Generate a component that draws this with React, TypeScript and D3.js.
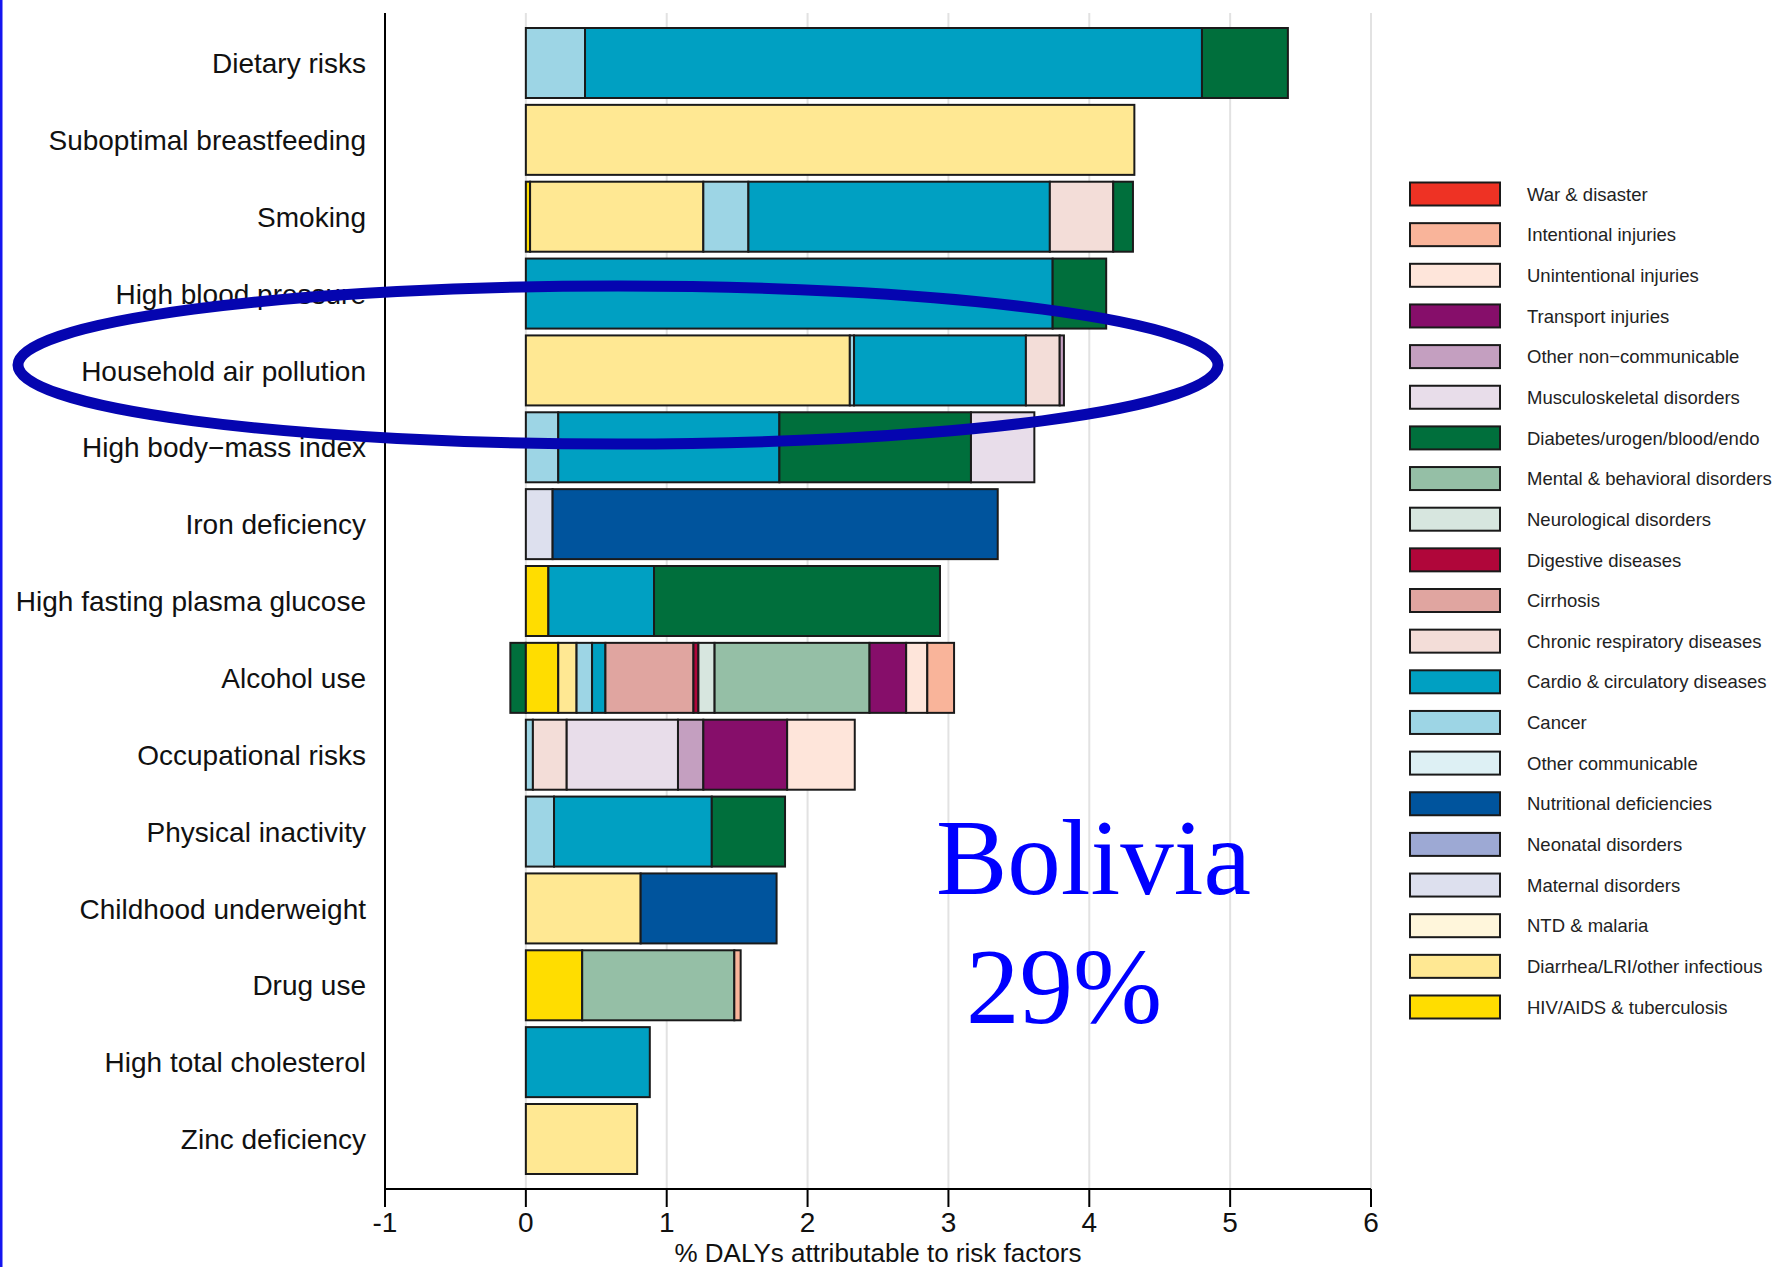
import React from "react";
import * as d3 from "d3";

// Legend / cause categories (top to bottom as in legend)
const causes = [
  "War & disaster",
  "Intentional injuries",
  "Unintentional injuries",
  "Transport injuries",
  "Other non\u2212communicable",
  "Musculoskeletal disorders",
  "Diabetes/urogen/blood/endo",
  "Mental & behavioral disorders",
  "Neurological disorders",
  "Digestive diseases",
  "Cirrhosis",
  "Chronic respiratory diseases",
  "Cardio & circulatory diseases",
  "Cancer",
  "Other communicable",
  "Nutritional deficiencies",
  "Neonatal disorders",
  "Maternal disorders",
  "NTD & malaria",
  "Diarrhea/LRI/other infectious",
  "HIV/AIDS & tuberculosis",
];

const causeColors = [
  "#EE3224",
  "#F9B49A",
  "#FEE5DA",
  "#860E6A",
  "#C49FC0",
  "#E8DDEA",
  "#006F3C",
  "#95BFA6",
  "#D7E6DF",
  "#B0063A",
  "#E0A5A0",
  "#F3DDD8",
  "#00A0C2",
  "#9DD5E5",
  "#DDF0F4",
  "#00549D",
  "#9DA9D4",
  "#DDE0EE",
  "#FFF6DB",
  "#FFE893",
  "#FFDD00",
];

const riskFactors = [
  "Dietary risks",
  "Suboptimal breastfeeding",
  "Smoking",
  "High blood pressure",
  "Household air pollution",
  "High body\u2212mass index",
  "Iron deficiency",
  "High fasting plasma glucose",
  "Alcohol use",
  "Occupational risks",
  "Physical inactivity",
  "Childhood underweight",
  "Drug use",
  "High total cholesterol",
  "Zinc deficiency",
];

// Segment sizes (% DALYs) per risk factor, in stacking order
const dietaryRisks: [string, number][] = [
  ["Cancer", 0.42],
  ["Cardio & circulatory diseases", 4.38],
  ["Diabetes/urogen/blood/endo", 0.61],
];
const suboptimalBreastfeeding: [string, number][] = [
  ["Diarrhea/LRI/other infectious", 4.32],
];
const smoking: [string, number][] = [
  ["HIV/AIDS & tuberculosis", 0.03],
  ["Diarrhea/LRI/other infectious", 1.23],
  ["Cancer", 0.32],
  ["Cardio & circulatory diseases", 2.14],
  ["Chronic respiratory diseases", 0.45],
  ["Diabetes/urogen/blood/endo", 0.14],
];
const highBloodPressure: [string, number][] = [
  ["Cardio & circulatory diseases", 3.74],
  ["Diabetes/urogen/blood/endo", 0.38],
];
const householdAirPollution: [string, number][] = [
  ["Diarrhea/LRI/other infectious", 2.3],
  ["Cancer", 0.03],
  ["Cardio & circulatory diseases", 1.22],
  ["Chronic respiratory diseases", 0.24],
  ["Other non\u2212communicable", 0.03],
];
const highBMI: [string, number][] = [
  ["Cancer", 0.23],
  ["Cardio & circulatory diseases", 1.57],
  ["Diabetes/urogen/blood/endo", 1.36],
  ["Musculoskeletal disorders", 0.45],
];
const ironDeficiency: [string, number][] = [
  ["Maternal disorders", 0.19],
  ["Nutritional deficiencies", 3.16],
];
const highFPG: [string, number][] = [
  ["HIV/AIDS & tuberculosis", 0.16],
  ["Cardio & circulatory diseases", 0.75],
  ["Diabetes/urogen/blood/endo", 2.03],
];
const alcoholUse: [string, number][] = [
  ["Diabetes/urogen/blood/endo", -0.11],
  ["HIV/AIDS & tuberculosis", 0.23],
  ["Diarrhea/LRI/other infectious", 0.13],
  ["Cancer", 0.11],
  ["Cardio & circulatory diseases", 0.095],
  ["Cirrhosis", 0.625],
  ["Digestive diseases", 0.035],
  ["Neurological disorders", 0.115],
  ["Mental & behavioral disorders", 1.1],
  ["Transport injuries", 0.26],
  ["Unintentional injuries", 0.15],
  ["Intentional injuries", 0.19],
];
const occupationalRisks: [string, number][] = [
  ["Cancer", 0.05],
  ["Chronic respiratory diseases", 0.24],
  ["Musculoskeletal disorders", 0.79],
  ["Other non\u2212communicable", 0.18],
  ["Transport injuries", 0.595],
  ["Unintentional injuries", 0.48],
];
const physicalInactivity: [string, number][] = [
  ["Cancer", 0.2],
  ["Cardio & circulatory diseases", 1.12],
  ["Diabetes/urogen/blood/endo", 0.52],
];
const childhoodUnderweight: [string, number][] = [
  ["Diarrhea/LRI/other infectious", 0.815],
  ["Nutritional deficiencies", 0.965],
];
const drugUse: [string, number][] = [
  ["HIV/AIDS & tuberculosis", 0.4],
  ["Mental & behavioral disorders", 1.08],
  ["Intentional injuries", 0.045],
];
const highCholesterol: [string, number][] = [
  ["Cardio & circulatory diseases", 0.88],
];
const zincDeficiency: [string, number][] = [
  ["Diarrhea/LRI/other infectious", 0.79],
];

const rowSegments = [
  dietaryRisks,
  suboptimalBreastfeeding,
  smoking,
  highBloodPressure,
  householdAirPollution,
  highBMI,
  ironDeficiency,
  highFPG,
  alcoholUse,
  occupationalRisks,
  physicalInactivity,
  childhoodUnderweight,
  drugUse,
  highCholesterol,
  zincDeficiency,
];

const xTicks = [-1, 0, 1, 2, 3, 4, 5, 6];
const xTitle = "% DALYs attributable to risk factors";
const countryLabel = "Bolivia";
const shareLabel = "29%";

const SANS = "'Liberation Sans', Arial, Helvetica, sans-serif";
const SERIF = "'Liberation Serif', 'Times New Roman', serif";

export default function App() {
  const W = 1776;
  const H = 1267;
  const x = d3.scaleLinear().domain([-1, 6]).range([385, 1371]);
  const y = d3.scalePoint<string>().domain(riskFactors).range([63, 1139]);
  const barH = 70;
  const plotTop = 13;
  const axisY = 1189;
  const color = d3.scaleOrdinal<string, string>().domain(causes).range(causeColors);
  const legendY = d3.scalePoint<string>().domain(causes).range([194, 1007]);

  const bars = riskFactors.map((rf, i) => {
    let pos = 0;
    let neg = 0;
    const segs = rowSegments[i].map(([cause, v]) => {
      let a: number, b: number;
      if (v >= 0) {
        a = pos;
        b = pos + v;
        pos = b;
      } else {
        b = neg;
        a = neg + v;
        neg = a;
      }
      return { cause, a, b };
    });
    return { rf, segs };
  });

  return (
    <svg
      width={W}
      height={H}
      style={{ position: "absolute", left: 0, top: 0, background: "#fff" }}
    >
      <rect x={0} y={0} width={W} height={H} fill="#fff" />
      {/* gridlines */}
      {xTicks.slice(1).map((t) => (
        <line
          key={"g" + t}
          x1={x(t)}
          x2={x(t)}
          y1={plotTop}
          y2={axisY}
          stroke="#e2e2e2"
          strokeWidth={2}
        />
      ))}
      {/* bars */}
      {bars.map(({ rf, segs }) => (
        <g key={rf}>
          {segs.map((s, j) => (
            <rect
              key={j}
              x={x(s.a)}
              y={(y(rf) as number) - barH / 2}
              width={x(s.b) - x(s.a)}
              height={barH}
              fill={color(s.cause)}
              stroke="#1a1a1a"
              strokeWidth={2}
            />
          ))}
        </g>
      ))}
      {/* y labels */}
      {riskFactors.map((rf) => (
        <text
          key={"l" + rf}
          x={366}
          y={y(rf) as number}
          dy="0.36em"
          textAnchor="end"
          fontFamily={SANS}
          fontSize={28}
          fill="#111"
        >
          {rf}
        </text>
      ))}
      {/* axes */}
      <line x1={385} x2={385} y1={plotTop} y2={axisY} stroke="#000" strokeWidth={2} />
      <line x1={x(-1)} x2={x(6)} y1={axisY} y2={axisY} stroke="#000" strokeWidth={2} />
      {xTicks.map((t) => (
        <g key={"t" + t}>
          <line x1={x(t)} x2={x(t)} y1={axisY} y2={axisY + 18} stroke="#000" strokeWidth={2} />
          <text
            x={x(t)}
            y={1232}
            textAnchor="middle"
            fontFamily={SANS}
            fontSize={28}
            fill="#111"
          >
            {t < 0 ? "-" + Math.abs(t) : String(t)}
          </text>
        </g>
      ))}
      <text
        x={(x(-1) + x(6)) / 2}
        y={1262}
        textAnchor="middle"
        fontFamily={SANS}
        fontSize={26}
        fill="#111"
      >
        {xTitle}
      </text>
      {/* legend */}
      {causes.map((c) => (
        <g key={"lg" + c}>
          <rect
            x={1410}
            y={(legendY(c) as number) - 11.5}
            width={90}
            height={23}
            fill={color(c)}
            stroke="#1a1a1a"
            strokeWidth={2}
          />
          <text
            x={1527}
            y={legendY(c) as number}
            dy="0.36em"
            fontFamily={SANS}
            fontSize={18.5}
            fill="#222"
          >
            {c}
          </text>
        </g>
      ))}
      {/* annotation */}
      <ellipse cx={618} cy={365} rx={600} ry={79} fill="none" stroke="#0505B0" strokeWidth={11} />
      <text x={936} y={894} fontFamily={SERIF} fontSize={107} fill="#0000FF">
        {countryLabel}
      </text>
      <text x={966} y={1023} fontFamily={SERIF} fontSize={107} fill="#0000FF">
        {shareLabel}
      </text>
      <rect x={0} y={0} width={2.5} height={H} fill="#1515F0" />
    </svg>
  );
}
